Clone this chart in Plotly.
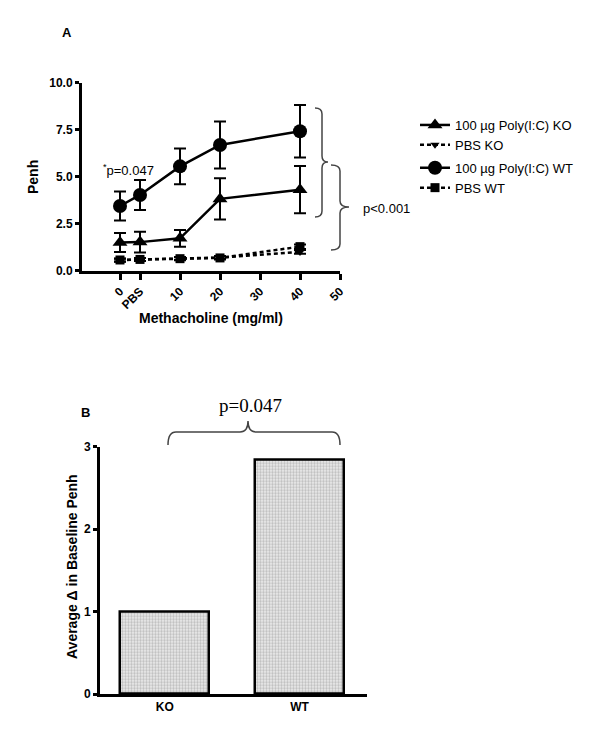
import plotly.graph_objects as go

# ---------------- Data ----------------
# Panel A: x positions (-5 is the "0" baseline, 0 is "PBS")
dose_x = [-5, 0, 10, 20, 40]
x_tick_vals = [-5, 0, 10, 20, 30, 40, 50]
x_tick_text = ["0", "PBS", "10", "20", "30", "40", "50"]
y_tick_vals = [0, 2.5, 5, 7.5, 10]
y_tick_text = ["0.0", "2.5", "5.0", "7.5", "10.0"]

poly_ko = [1.5, 1.52, 1.72, 3.82, 4.31]
poly_ko_err = [0.5, 0.55, 0.45, 1.1, 1.26]
pbs_ko = [0.55, 0.6, 0.65, 0.7, 1.0]
pbs_ko_err = [0.08, 0.08, 0.08, 0.08, 0.1]
poly_wt = [3.44, 4.03, 5.55, 6.69, 7.42]
poly_wt_err = [0.77, 0.8, 0.95, 1.25, 1.4]
pbs_wt = [0.57, 0.6, 0.64, 0.68, 1.28]
pbs_wt_err = [0.08, 0.08, 0.08, 0.08, 0.12]

# Panel B
groups = ["KO", "WT"]
delta_baseline = [1.0, 2.84]
b_tick_vals = [0, 1, 2, 3]

W, H = 600, 739
FONT = "Liberation Sans, Arial, sans-serif"


def px(x):
    return x / W


def py(y):
    return (H - y) / H


fig = go.Figure()

common_err = dict(type="data", thickness=2, width=6, color="black")

fig.add_trace(go.Scatter(
    x=dose_x, y=poly_ko, name="100 µg Poly(I:C) KO", mode="lines+markers",
    line=dict(color="black", width=2.5),
    marker=dict(symbol="triangle-up", size=13, color="black"),
    error_y=dict(array=poly_ko_err, **common_err), cliponaxis=False,
    legendgroup="KO", xaxis="x", yaxis="y"))
fig.add_trace(go.Scatter(
    x=dose_x, y=pbs_ko, name="PBS KO", mode="lines+markers",
    line=dict(color="black", width=2.5, dash="4px,3px"),
    marker=dict(symbol="triangle-down", size=8, color="black"),
    error_y=dict(array=pbs_ko_err, **common_err), cliponaxis=False,
    legendgroup="KO", xaxis="x", yaxis="y"))
fig.add_trace(go.Scatter(
    x=dose_x, y=poly_wt, name="100 µg Poly(I:C) WT", mode="lines+markers",
    line=dict(color="black", width=2.5),
    marker=dict(symbol="circle", size=14, color="black"),
    error_y=dict(array=poly_wt_err, **common_err), cliponaxis=False,
    legendgroup="WT", xaxis="x", yaxis="y"))
fig.add_trace(go.Scatter(
    x=dose_x, y=pbs_wt, name="PBS WT", mode="lines+markers",
    line=dict(color="black", width=2.5, dash="4px,3px"),
    marker=dict(symbol="square", size=9, color="black"),
    error_y=dict(array=pbs_wt_err, **common_err), cliponaxis=False,
    legendgroup="WT", xaxis="x", yaxis="y"))

fig.add_trace(go.Bar(
    x=[0, 1], y=delta_baseline, width=0.66, showlegend=False,
    marker=dict(color="#e0e0e0", line=dict(color="black", width=2.5),
                pattern=dict(shape=".", size=3, solidity=0.5,
                             fgcolor="#8c8c8c", bgcolor="#efefef")),
    xaxis="x2", yaxis="y2"))

tickfont = dict(family=FONT, size=12, color="black")
axis_common = dict(showline=True, linecolor="black", linewidth=3,
                   ticks="outside", ticklen=4, tickwidth=2.5, tickcolor="black",
                   showgrid=False, zeroline=False, tickfont=tickfont,
                   automargin=False)


def bold(lst):
    return ["<b>%s</b>" % t for t in lst]


fig.update_layout(
    width=W, height=H, margin=dict(l=0, r=0, t=0, b=0),
    paper_bgcolor="white", plot_bgcolor="white",
    font=dict(family=FONT, color="black"),
    xaxis=dict(domain=[px(82), px(340)], range=[-14.5, 50], anchor="y",
               tickvals=x_tick_vals, ticktext=bold(x_tick_text), tickangle=-45,
               **{**axis_common, "ticklen": 6}),
    yaxis=dict(domain=[py(270.7), py(82.7)], range=[0, 10], anchor="x",
               tickvals=y_tick_vals, ticktext=bold(y_tick_text),
               **axis_common),
    xaxis2=dict(domain=[px(100), px(367)], range=[-0.48, 1.5], anchor="y2",
                tickvals=[0, 1], ticktext=bold(groups),
                **{**axis_common, "ticks": ""}),
    yaxis2=dict(domain=[py(694), py(446.7)], range=[0, 3], anchor="x2",
                tickvals=b_tick_vals, ticktext=bold([str(v) for v in b_tick_vals]),
                **axis_common),
    legend=dict(x=px(415), y=py(110), xanchor="left", yanchor="top",
                font=dict(family=FONT, size=13, color="black"),
                traceorder="grouped", tracegroupgap=3, itemwidth=30,
                bgcolor="rgba(0,0,0,0)"),
    bargap=0,
)


def vbrace(x0, x1, xt, yt, ym, yb, r=6):
    return ("M {a},{b} Q {c},{b} {c},{d} L {c},{e} Q {c},{f} {g},{f} "
            "Q {c},{f} {c},{h} L {c},{i} Q {c},{j} {a},{j}").format(
        a=px(x0), b=py(yt), c=px(x1), d=py(yt + r), e=py(ym - r), f=py(ym),
        g=px(xt), h=py(ym + r), i=py(yb - r), j=py(yb))


def hbrace(xl, xr, xm, yend, yline, ytip, r=8):
    return ("M {a},{b} Q {a},{c} {d},{c} L {e},{c} Q {m},{c} {m},{t} "
            "Q {m},{c} {f},{c} L {g},{c} Q {h},{c} {h},{b}").format(
        a=px(xl), b=py(yend), c=py(yline), d=px(xl + r), e=px(xm - r),
        m=px(xm), t=py(ytip), f=px(xm + r), g=px(xr - r), h=px(xr))


brace_style = dict(type="path", xref="paper", yref="paper",
                   line=dict(color="#444444", width=1.5))
fig.add_shape(path=vbrace(315, 322, 328, 108, 162, 217), **brace_style)
fig.add_shape(path=vbrace(331, 340, 349, 165, 207, 250), **brace_style)
fig.add_shape(path=hbrace(168, 340, 248, 445, 432, 421), **brace_style)

ann = [
    dict(text="<b>A</b>", x=67, y=32, size=13),
    dict(text="<b>B</b>", x=85, y=412, size=13),
    dict(text="<sup>*</sup>p=0.047", x=128, y=170, size=13),
    dict(text="p<0.001", x=386, y=209, size=13),
    dict(text="p=0.047", x=250, y=405, size=19,
         family="Liberation Serif, Times New Roman, serif"),
    dict(text="<b>Penh</b>", x=33, y=177, size=14, angle=-90),
    dict(text="<b>Methacholine (mg/ml)</b>", x=211, y=318, size=14),
    dict(text="<b>Average Δ in Baseline Penh</b>", x=72, y=567, size=14, angle=-90),
]
for a in ann:
    fig.add_annotation(xref="paper", yref="paper", showarrow=False,
                       xanchor="center", yanchor="middle",
                       text=a["text"], x=px(a["x"]), y=py(a["y"]),
                       textangle=a.get("angle", 0),
                       font=dict(family=a.get("family", FONT), size=a["size"],
                                 color="black"))

fig.write_html("out.html", config={"displayModeBar": False},
               post_script="document.body.style.margin='0';")
